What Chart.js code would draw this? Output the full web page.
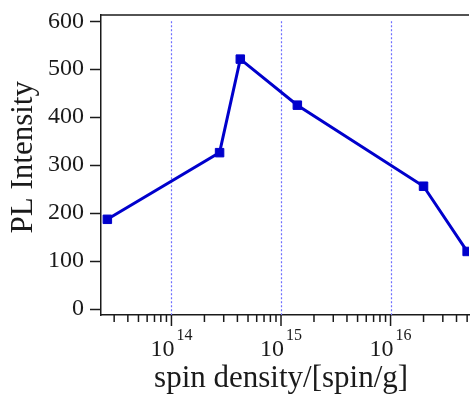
<!DOCTYPE html>
<html>
<head>
<meta charset="utf-8">
<script src="https://cdn.jsdelivr.net/npm/chart.js@4/dist/chart.umd.min.js"></script>
<style>
  html, body { margin: 0; padding: 0; background: #fff; overflow: hidden; }
  canvas { display: block; }
</style>
</head>
<body>
<canvas id="plChart" width="476" height="396"></canvas>
<script>
// spin density [spin/g] vs PL intensity
const spinDensity = [2.6e13, 2.75e14, 4.25e14, 1.41e15, 2.0e16, 5.0e16];
const plIntensity = [187, 326, 521, 425, 256, 120];
const tickExponents = [13, 14, 15, 16];      // decades that get minor ticks
const labelledExponents = [14, 15, 16];      // decades shown as 10^n

const serif = "'Liberation Serif', 'Times New Roman', serif";
const ink = '#1a1a1a';

// log axis ticks, 10^n labels, dotted decade lines and the top frame line
const decadeAxis = {
  id: 'decadeAxis',
  beforeDatasetsDraw(chart) {
    const { ctx, chartArea, scales: { x, y } } = chart;
    const top = y.getPixelForValue(y.ticks[y.ticks.length - 1].value);
    ctx.save();
    ctx.strokeStyle = 'rgb(110, 110, 255)';
    ctx.lineWidth = 1.2;
    ctx.setLineDash([2, 2]);
    labelledExponents.forEach(e => {
      const px = Math.round(x.getPixelForValue(Math.pow(10, e))) + 0.5;
      ctx.beginPath();
      ctx.moveTo(px, top);
      ctx.lineTo(px, chartArea.bottom);
      ctx.stroke();
    });
    ctx.restore();
  },
  afterDraw(chart) {
    const { ctx, chartArea, scales: { x } } = chart;
    ctx.save();
    ctx.strokeStyle = ink;
    ctx.lineWidth = 1.5;
    ctx.beginPath();
    ctx.moveTo(chartArea.left, chartArea.top);
    ctx.lineTo(chartArea.right, chartArea.top);
    ctx.stroke();

    tickExponents.forEach(e => {
      for (let m = 1; m <= 9; m++) {
        const v = m * Math.pow(10, e);
        if (v < x.min || v > x.max) continue;
        const px = x.getPixelForValue(v);
        const len = m === 1 ? 11 : 7;
        ctx.beginPath();
        ctx.moveTo(px, chartArea.bottom);
        ctx.lineTo(px, chartArea.bottom + len);
        ctx.stroke();
      }
    });

    ctx.fillStyle = ink;
    ctx.textAlign = 'left';
    ctx.textBaseline = 'alphabetic';
    labelledExponents.forEach(e => {
      const px = x.getPixelForValue(Math.pow(10, e));
      const sup = String(e);
      ctx.font = '24px ' + serif;
      const baseW = ctx.measureText('10').width;
      ctx.font = '16px ' + serif;
      const supW = ctx.measureText(sup).width;
      const gap = 2;
      const start = px - (baseW + gap + supW) / 2;
      ctx.font = '24px ' + serif;
      ctx.fillText('10', start, chartArea.bottom + 41);
      ctx.font = '16px ' + serif;
      ctx.fillText(sup, start + baseW + gap, chartArea.bottom + 24.5);
    });
    ctx.restore();
  }
};

new Chart(document.getElementById('plChart').getContext('2d'), {
  type: 'line',
  data: {
    labels: spinDensity,
    datasets: [{
      label: 'PL Intensity',
      data: spinDensity.map((s, i) => ({ x: s, y: plIntensity[i] })),
      borderColor: '#0000cc',
      backgroundColor: '#0000cc',
      borderWidth: 3,
      pointStyle: 'rect',
      pointRadius: 6,
      pointBorderWidth: 1,
      tension: 0
    }]
  },
  options: {
    responsive: false,
    animation: false,
    layout: { padding: { top: 15, right: 0, bottom: 0, left: 0 } },
    plugins: { legend: { display: false }, tooltip: { enabled: false } },
    scales: {
      x: {
        type: 'logarithmic',
        min: 2.275e13,
        max: 5.2e16,
        grid: { display: false },
        border: { display: true, color: ink, width: 1.5 },
        ticks: { display: false },
        title: {
          display: true,
          text: 'spin density/[spin/g]\u00a0',
          color: ink,
          font: { family: serif, size: 31, lineHeight: 1 },
          padding: { top: 0, bottom: 1.5 }
        },
        afterFit(scale) { scale.height = 81; }
      },
      y: {
        min: -12.5,
        max: 613,
        grid: { display: true, drawOnChartArea: false, drawTicks: true, tickLength: 11, tickColor: ink, tickWidth: 1.5 },
        border: { display: true, color: ink, width: 1.5 },
        ticks: { stepSize: 100, includeBounds: false, padding: 6, color: ink, font: { family: serif, size: 24 } },
        title: {
          display: true,
          text: '\u00a0\u00a0PL Intensity',
          color: ink,
          font: { family: serif, size: 31 },
          padding: { top: 5.5, bottom: 0 }
        },
        afterFit(scale) {
          scale.width = 101;
          scale.paddingTop = 0;
          scale.paddingBottom = 0;
        }
      }
    }
  },
  plugins: [decadeAxis]
});
</script>
</body>
</html>
